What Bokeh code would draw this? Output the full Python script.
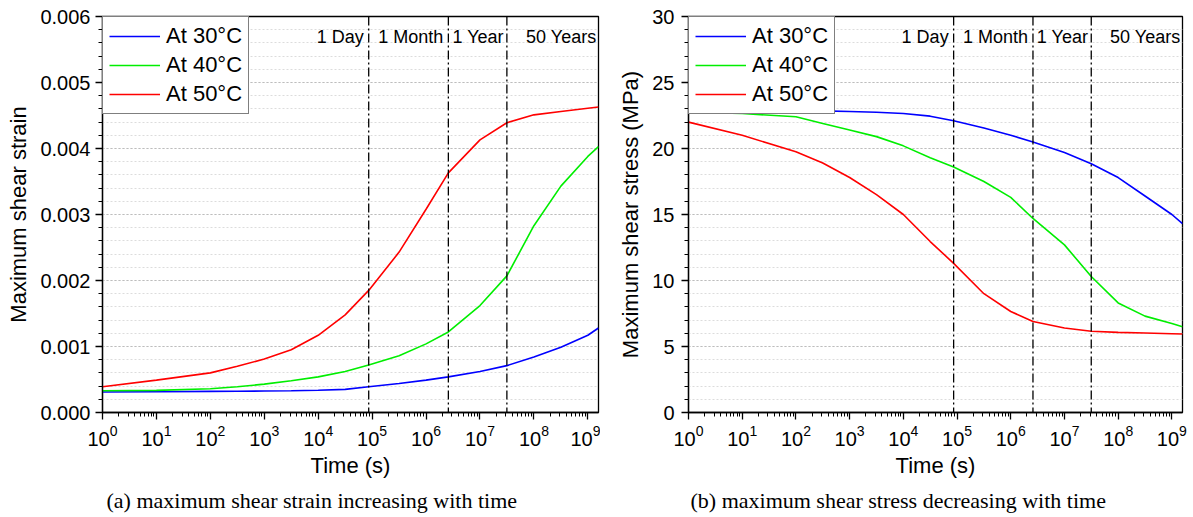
from bokeh.plotting import figure
from bokeh.layouts import row
from bokeh.models import (Span, Label, Title, LogTicker, SingleIntervalTicker,
                          NumeralTickFormatter, Range1d)
from bokeh.embed import file_html
from bokeh.resources import INLINE

# ---------------- data ----------------
time_s = [1, 10, 100, 316, 1000, 3162, 1e4, 31623, 86400, 316228, 1e6,
          2592000, 1e7, 31536000, 1e8, 316227766, 1e9, 1576800000]

strain_30 = [0.00031, 0.000315, 0.00032, 0.000322, 0.000325, 0.00033, 0.000337, 0.00035,
             0.00039, 0.00044, 0.00049, 0.00054, 0.00062, 0.00071, 0.00084, 0.00099,
             0.00117, 0.00128]
strain_40 = [0.00033, 0.000335, 0.00036, 0.00039, 0.00043, 0.00048, 0.00054, 0.00062,
             0.00072, 0.00086, 0.00104, 0.00122, 0.00162, 0.00207, 0.00283, 0.00343,
             0.00388, 0.00403]
strain_50 = [0.00039, 0.00049, 0.00060, 0.00070, 0.00081, 0.00095, 0.00117, 0.00148,
             0.00185, 0.00243, 0.00308, 0.00363, 0.00413, 0.00439, 0.00451, 0.00456,
             0.00461, 0.00463]

stress_30 = [23.0, 22.95, 22.9, 22.85, 22.8, 22.75, 22.65, 22.45, 22.1, 21.55, 21.0,
             20.5, 19.7, 18.85, 17.8, 16.4, 15.0, 14.3]
stress_40 = [22.75, 22.65, 22.4, 21.9, 21.4, 20.9, 20.2, 19.3, 18.6, 17.5, 16.3,
             14.7, 12.7, 10.3, 8.3, 7.3, 6.75, 6.5]
stress_50 = [22.0, 21.0, 19.75, 18.9, 17.8, 16.5, 15.0, 12.95, 11.3, 9.0, 7.65,
             6.9, 6.4, 6.15, 6.07, 6.02, 5.97, 5.95]

series_names = ["At 30\u00b0C", "At 40\u00b0C", "At 50\u00b0C"]
series_colors = ["#0000ff", "#00ee00", "#ff0000"]

event_times = [86400, 2592000, 31536000]          # 1 day, 1 month, 1 year
event_text = ["1 Day", "1 Month", "1 Year", "50 Years"]
event_text_x = [86400, 2592000, 31536000, 1576800000]
event_text_dx = [-5, -5, -3, -2]

x_start, x_end = 1, 1576800000

SANS = "Liberation Sans"
SERIF = "Liberation Serif"


def make_panel(width, border_left, border_right, ys, y_end, y_interval, y_fmt,
               y_label, caption, caption_offset, text_y, tick_standoff):
    p = figure(width=width, height=517, x_axis_type="log",
               x_range=Range1d(x_start, x_end), y_range=Range1d(0, y_end),
               output_backend="svg", toolbar_location=None,
               min_border_left=border_left, min_border_right=border_right,
               min_border_top=16, min_border_bottom=104)
    p.background_fill_color = "white"
    p.border_fill_color = "white"
    p.outline_line_color = "black"
    p.outline_line_width = 1.3

    for vals, name, col in zip(ys, series_names, series_colors):
        p.line(time_s, vals, line_color=col, line_width=1.6, legend_label=name)

    for t in event_times:
        p.add_layout(Span(location=t, dimension="height", line_color="black",
                          line_width=1.3, line_dash="9 3 2 3"))
    for txt, tx, dx in zip(event_text, event_text_x, event_text_dx):
        p.add_layout(Label(x=tx, y=text_y, text=txt, x_offset=dx, text_align="right",
                           text_baseline="middle", text_font=SANS,
                           text_font_size="18px", text_color="black"))

    # x axis
    xa = p.xaxis[0]
    xa.ticker = LogTicker(num_minor_ticks=10)
    xa.axis_label = "Time (s)"
    # y axis
    ya = p.yaxis[0]
    ya.ticker = SingleIntervalTicker(interval=y_interval, num_minor_ticks=5)
    if y_fmt:
        ya.formatter = NumeralTickFormatter(format=y_fmt)
    ya.axis_label = y_label
    for ax in (xa, ya):
        ax.axis_line_color = "black"
        ax.axis_line_width = 1.3
        ax.major_tick_line_color = "black"
        ax.minor_tick_line_color = "black"
        ax.major_tick_line_width = 1.3
        ax.minor_tick_line_width = 1.0
        ax.major_tick_in = 0
        ax.major_tick_out = 7
        ax.minor_tick_in = 0
        ax.minor_tick_out = 4
        ax.major_label_text_font = SANS
        ax.major_label_text_font_size = "20px"
        ax.major_label_text_color = "black"
        ax.axis_label_text_font = SANS
        ax.axis_label_text_font_size = "22px"
        ax.axis_label_text_font_style = "normal"
        ax.axis_label_text_color = "black"
    ya.major_label_standoff = tick_standoff
    ya.axis_label_standoff = 6
    xa.major_label_standoff = 5
    xa.axis_label_standoff = 4

    p.xgrid.grid_line_color = None
    p.ygrid.grid_line_color = "#bdbdbd"
    p.ygrid.grid_line_dash = "2 2"
    p.ygrid.grid_line_width = 1
    p.ygrid.minor_grid_line_color = "#dcdcdc"
    p.ygrid.minor_grid_line_dash = "2 2"

    lg = p.legend[0]
    lg.location = "top_left"
    lg.margin = 0
    lg.padding = 6
    lg.spacing = 3
    lg.glyph_height = 24
    lg.label_height = 24
    lg.glyph_width = 51
    lg.label_standoff = 6
    lg.label_text_font = SANS
    lg.label_text_font_size = "22px"
    lg.label_text_color = "black"
    lg.border_line_color = "black"
    lg.border_line_width = 1.2
    lg.background_fill_alpha = 1.0

    p.add_layout(Title(text=caption, align="left", offset=caption_offset,
                       text_font=SERIF, text_font_size="22px",
                       text_font_style="normal", text_color="black"), "below")
    return p


p1 = make_panel(600, 102, 2, [strain_30, strain_40, strain_50], 0.006, 0.001, "0.000",
                "Maximum shear strain", "(a) maximum shear strain increasing with time",
                4, 0.00569, 5)
p2 = make_panel(593, 88, 11, [stress_30, stress_40, stress_50], 30, 5, None,
                "Maximum shear stress (MPa)", "(b) maximum shear stress decreasing with time",
                2, 28.45, 7)

layout = row(p1, p2)
open("out.html", "w").write(file_html(layout, INLINE))
